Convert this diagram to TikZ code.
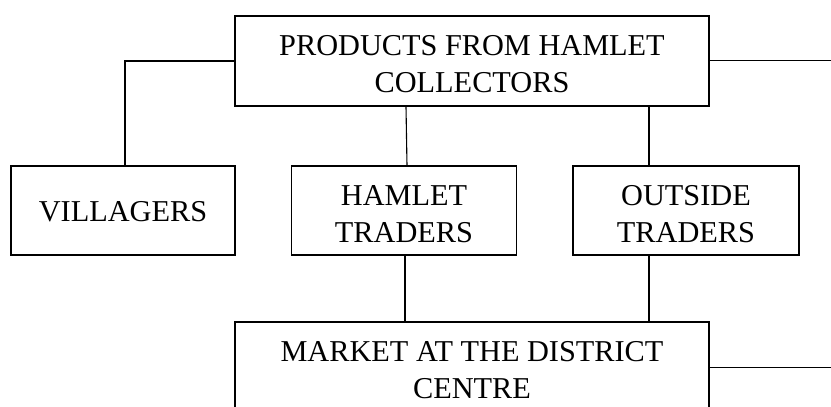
\documentclass[tikz,border=0pt]{standalone}
\usepackage{fontspec}
\setmainfont{Liberation Serif}
\begin{document}
\begin{tikzpicture}[x=1pt,y=-1pt,
  frame/.style={draw,line width=1.1pt,rectangle,inner sep=0pt},
  txt/.style={inner sep=0pt,align=center,font=\fontsize{30.3}{36.6}\selectfont},
  link/.style={line width=1.1pt}]
\useasboundingbox (0,0) rectangle (831,407);
\begin{scope}
\clip (0,0) rectangle (831,407);
\node[frame,minimum width=474pt,minimum height=90pt] (top) at (472,61) {};
\node[frame,minimum width=224pt,minimum height=89pt] (vil) at (123,210.5) {};
\node[frame,minimum width=225.7pt,minimum height=89pt] (ham) at (404,210.5) {};
\node[frame,minimum width=226pt,minimum height=89pt] (out) at (686,210.5) {};
\node[frame,minimum width=474pt,minimum height=90pt] (mkt) at (472,367) {};
\node[txt] (topt) at ([yshift=-3.4pt]top.center) {PRODUCTS FROM HAMLET\\COLLECTORS};
\node[txt] (vilt) at ([yshift=-1.4pt]vil.center) {VILLAGERS};
\node[txt] (hamt) at ([yshift=-3.8pt]ham.center) {HAMLET\\TRADERS};
\node[txt] (outt) at ([yshift=-3.8pt]out.center) {OUTSIDE\\TRADERS};
\node[txt] (mktt) at ([yshift=-3.4pt]mkt.center) {MARKET AT THE DISTRICT\\CENTRE};
\coordinate (r1) at (831,60.5);
\coordinate (r2) at (831,367.5);
\draw[link] (top.west) -| ([xshift=2pt]vil.north);
\draw[link] ([xshift=2pt]top.south -| ham.north) -- ([xshift=3pt]ham.north);
\draw[link] ([xshift=-37pt]out.north |- top.south) -- ([xshift=-37pt]out.north);
\draw[link] ([xshift=1pt]ham.south) -- ([xshift=1pt]ham.south |- mkt.north);
\draw[link] ([xshift=-37pt]out.south) -- ([xshift=-37pt]out.south |- mkt.north);
\draw[link] (top.east |- r1) -- (r1);
\draw[link] (mkt.east |- r2) -- (r2);
\end{scope}
\end{tikzpicture}
\end{document}
